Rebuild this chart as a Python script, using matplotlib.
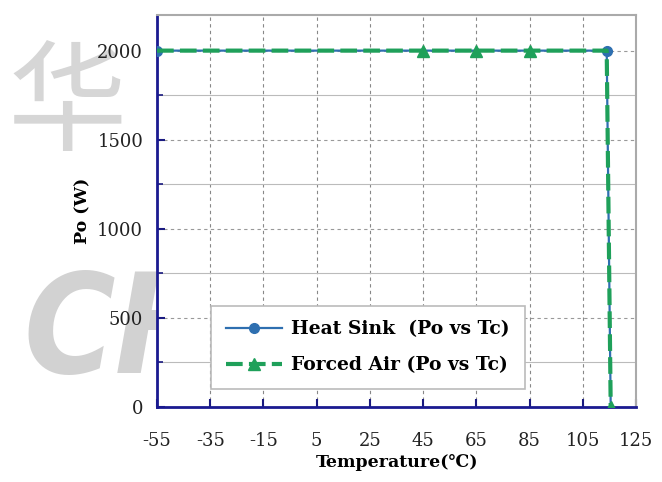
import matplotlib
matplotlib.use("Agg")
import matplotlib.pyplot as plt
from matplotlib.ticker import MultipleLocator

# Data
hs_temp = [-55, 114, 115.5]
hs_po = [2000, 2000, 0]
fa_temp = [-55, 45, 65, 85, 114, 115.5]
fa_po = [2000, 2000, 2000, 2000, 2000, 0]
xticks = [-55, -35, -15, 5, 25, 45, 65, 85, 105, 125]
yticks = [0, 500, 1000, 1500, 2000]

plt.rcParams['font.family'] = ['DejaVu Serif']
plt.rcParams['axes.unicode_minus'] = False

fig = plt.figure(figsize=(6.62, 4.82), dpi=100)

# watermark
fig.text(0.012, 0.905, "华", fontsize=86, color="#d6d6d6", family=["Noto Sans CJK SC"],
         va="top", ha="left", zorder=0)
fig.text(0.035, 0.305, "CH", fontsize=100, color="#d2d2d2", family=["DejaVu Sans"],
         fontweight="bold", fontstretch="condensed", style="italic",
         va="center", ha="left", zorder=0)

ax = fig.add_axes([0.2372, 0.1556, 0.7235, 0.8133])
ax.set_zorder(1)
ax.patch.set_facecolor("white")

ax.plot(hs_temp, hs_po, color="#2e6fb0", lw=1.6, marker="o", ms=7,
        markevery=[0, 1], label="Heat Sink  (Po vs Tc)", zorder=3)
ax.plot(fa_temp, fa_po, color="#1fa05a", lw=3, ls=(0, (4, 1.5)), marker="^", ms=8,
        markevery=[1, 2, 3, 5], label="Forced Air (Po vs Tc)", zorder=4)

ax.set_xlim(-55, 125)
ax.set_ylim(0, 2200)
ax.set_xticks(xticks)
ax.set_yticks(yticks)
ax.yaxis.set_minor_locator(MultipleLocator(250))
ax.tick_params(axis="both", which="both", direction="in", colors="#1a1a80",
               labelcolor="#222222", labelsize=13)
ax.tick_params(axis="x", which="major", pad=18)
ax.tick_params(axis="y", which="major", pad=10)
ax.tick_params(which="major", length=6, width=1.5)
ax.tick_params(which="minor", length=4, width=1.2)

ax.grid(True, axis="x", which="major", color="#888888", ls=(0, (3, 3)), lw=0.8)
ax.grid(True, axis="y", which="major", color="#999999", ls=(0, (3, 3)), lw=0.8)
ax.grid(True, axis="y", which="minor", color="#bbbbbb", ls="-", lw=0.8)

for s in ["left", "bottom"]:
    ax.spines[s].set_color("#1a1a90")
    ax.spines[s].set_linewidth(2)
for s in ["top", "right"]:
    ax.spines[s].set_color("#aaaaaa")
    ax.spines[s].set_linewidth(1.5)

ax.set_xlabel("Temperature(℃)", fontsize=12.5, fontweight="bold", labelpad=3)
ax.set_ylabel("Po (W)", fontsize=12.5, fontweight="bold", labelpad=4)

leg = ax.legend(loc="lower left", bbox_to_anchor=(0.112, 0.045),
                prop={"weight": "bold", "size": 13.5}, fancybox=False,
                edgecolor="#bbbbbb", framealpha=1, handlelength=3.0,
                handletextpad=0.5, borderpad=0.8, labelspacing=0.95,
                borderaxespad=0)
leg.get_frame().set_linewidth(1.2)

fig.savefig("out.png", dpi=100)
